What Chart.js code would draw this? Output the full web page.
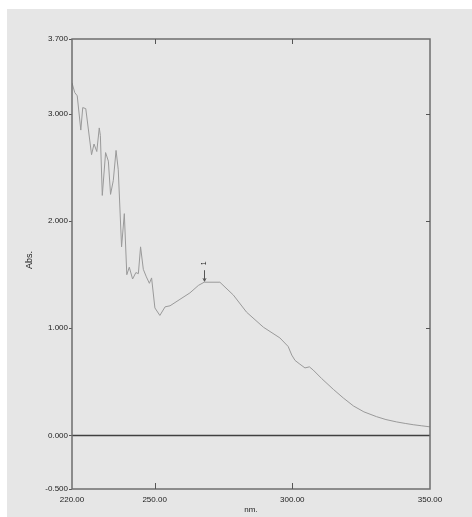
<!DOCTYPE html>
<html>
<head>
<meta charset="utf-8">
<script src="https://cdn.jsdelivr.net/npm/chart.js@4.4.1/dist/chart.umd.min.js"></script>
<style>
html, body { margin: 0; padding: 0; background: #fff; }
</style>
</head>
<body>
<canvas id="grafico" width="472" height="517"></canvas>
<script>
// espectro
const longitudes = [220.0, 221.0, 221.9, 223.2, 223.9, 225.0, 227.1, 228.0, 229.0, 229.9, 230.3, 231.0, 232.2, 233.2, 234.0, 235.0, 236.0, 236.8, 238.0, 239.0, 239.9, 240.8, 242.0, 243.2, 244.1, 244.9, 245.9, 247.0, 248.1, 248.9, 250.1, 251.9, 253.8, 255.6, 259.2, 262.8, 265.9, 268.0, 273.7, 278.6, 283.4, 289.5, 295.5, 298.5, 299.8, 301.0, 302.5, 304.6, 306.2, 307.6, 310.7, 314.9, 318.5, 322.2, 326.0, 330.6, 334.0, 337.9, 341.0, 343.9, 347.0, 350.0]
const absorbancia = [3.29, 3.20, 3.17, 2.85, 3.06, 3.05, 2.62, 2.72, 2.65, 2.87, 2.80, 2.24, 2.64, 2.56, 2.25, 2.38, 2.66, 2.48, 1.76, 2.07, 1.50, 1.57, 1.46, 1.52, 1.51, 1.76, 1.55, 1.48, 1.42, 1.47, 1.19, 1.12, 1.20, 1.21, 1.27, 1.33, 1.40, 1.43, 1.43, 1.31, 1.15, 1.01, 0.91, 0.83, 0.75, 0.70, 0.67, 0.63, 0.64, 0.61, 0.53, 0.43, 0.35, 0.275, 0.22, 0.175, 0.148, 0.126, 0.112, 0.10, 0.09, 0.08]

const ticksX = [220, 250, 300, 350]
const ticksY = [-0.5, 0, 1, 2, 3, 3.7]

// pico marcado
const picoNm = [268]
const picoAbs = [1.43]
const picoEtiqueta = ["1"]

const fuenteTicks = '"Liberation Sans Narrow", "Liberation Sans", Arial, sans-serif'

function linea(ctx, x1, y1, x2, y2) {
    ctx.beginPath()
    ctx.moveTo(x1, y1)
    ctx.lineTo(x2, y2)
    ctx.stroke()
}

const marcoPlugin = {
    id: "marco",
    beforeDraw(chart) {
        const ctx = chart.ctx
        ctx.save()
        ctx.fillStyle = "#e6e6e6"
        ctx.fillRect(7, 9, chart.width - 7, chart.height - 9)
        ctx.restore()
    },
    afterDraw(chart) {
        const ctx = chart.ctx
        const a = chart.chartArea
        const x = chart.scales.x
        const y = chart.scales.y
        ctx.save()

        //linea del cero
        const y0 = y.getPixelForValue(0)
        ctx.strokeStyle = "#404040"
        ctx.lineWidth = 1.5
        linea(ctx, a.left, y0, a.right, y0)

        //marco
        ctx.strokeStyle = "#6e6e6e"
        ctx.lineWidth = 1.5
        ctx.strokeRect(a.left, a.top, a.right - a.left, a.bottom - a.top)

        //ticks interiores
        ctx.lineWidth = 1
        ctx.strokeStyle = "#555"
        ticksX.slice(1, -1).forEach(v => {
            const px = Math.round(x.getPixelForValue(v)) + 0.5
            linea(ctx, px, a.top, px, a.top + 5)
            linea(ctx, px, a.bottom, px, a.bottom - 6)
        })
        ticksY.slice(2, -1).forEach(v => {
            const py = Math.round(y.getPixelForValue(v)) + 0.5
            linea(ctx, a.right - 4, py, a.right, py)
        })

        //titulos de ejes
        ctx.fillStyle = "#222"
        ctx.textAlign = "center"
        ctx.textBaseline = "middle"
        ctx.font = "8px " + fuenteTicks
        ctx.fillText("nm.", (a.left + a.right) / 2, 510)
        ctx.save()
        ctx.translate(30, 260)
        ctx.rotate(-Math.PI / 2)
        ctx.font = "9px " + fuenteTicks
        ctx.fillText("Abs.", 0, 0)
        ctx.restore()

        //marca del pico
        picoNm.forEach((nm, i) => {
            const px = Math.round(x.getPixelForValue(nm)) + 0.5
            const py = y.getPixelForValue(picoAbs[i])
            ctx.strokeStyle = "#555"
            linea(ctx, px, py - 12, px, py - 1)
            ctx.beginPath()
            ctx.moveTo(px - 1.5, py - 4)
            ctx.lineTo(px, py - 1)
            ctx.lineTo(px + 1.5, py - 4)
            ctx.stroke()
            ctx.save()
            ctx.translate(px, py - 19)
            ctx.rotate(-Math.PI / 2)
            ctx.font = "7px " + fuenteTicks
            ctx.fillText(picoEtiqueta[i], 0, 0)
            ctx.restore()
        })
        ctx.restore()
    }
}

const puntos = longitudes.map((l, i) => ({ x: l, y: absorbancia[i] }))

const config = {
    type: "line",
    data: {
        datasets: [{
            label: "Abs.",
            data: puntos,
            borderColor: "#9a9a9a",
            borderWidth: 1,
            pointRadius: 0,
            tension: 0,
            fill: false
        }]
    },
    options: {
        responsive: false,
        animation: false,
        layout: { padding: { left: 0, top: 39, right: 42, bottom: 0 } },
        plugins: {
            legend: { display: false },
            tooltip: { enabled: false }
        },
        scales: {
            x: {
                type: "linear",
                min: 220,
                max: 350,
                afterBuildTicks: s => { s.ticks = ticksX.map(v => ({ value: v })) },
                afterFit: s => { s.height = 28 },
                grid: { display: false, drawTicks: false },
                border: { display: false },
                ticks: {
                    padding: 6,
                    color: "#222",
                    font: { family: fuenteTicks, size: 8 },
                    maxRotation: 0,
                    callback: v => Number(v).toFixed(2)
                }
            },
            y: {
                min: -0.5,
                max: 3.7,
                afterBuildTicks: s => { s.ticks = ticksY.map(v => ({ value: v })) },
                afterFit: s => { s.width = 72 },
                grid: { drawOnChartArea: false, drawTicks: true, tickLength: 3, color: "#555" },
                border: { display: false },
                ticks: {
                    padding: 1,
                    color: "#222",
                    font: { family: fuenteTicks, size: 8 },
                    callback: v => Number(v).toFixed(3)
                }
            }
        }
    },
    plugins: [marcoPlugin]
}

let graficoEspectro = new Chart(document.getElementById("grafico"), config)
</script>
</body>
</html>
